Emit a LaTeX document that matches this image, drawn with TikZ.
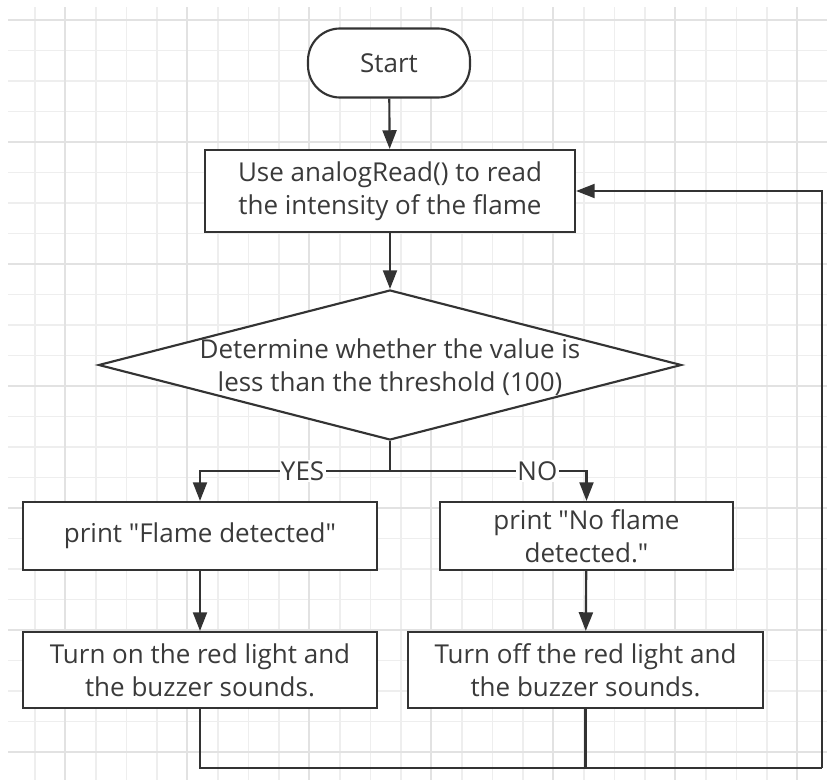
\documentclass[tikz,border=0pt]{standalone}
\usepackage{fontspec}
\setmainfont{Open Sans}[Ligatures=TeXOff]
\usetikzlibrary{shapes.geometric,arrows.meta}
\definecolor{ink}{HTML}{333333}
\definecolor{txt}{HTML}{3A3A3A}
\definecolor{gridminor}{HTML}{EEEEEE}
\definecolor{gridmajor}{HTML}{E2E2E2}
\begin{document}
\begin{tikzpicture}[x=0.75pt,y=-0.75pt,
  every node/.style={font=\fontsize{19.5}{24.75}\selectfont, text=txt},
  box/.style={draw=ink, line width=1.6pt, fill=white, rectangle, align=center, inner sep=0pt},
  link/.style={draw=ink, line width=1.6pt},
  arrow/.style={link, -{Triangle[length=14pt,width=10.5pt]}},
  tag/.style={fill=white, inner sep=1pt}]
\useasboundingbox (0,0) rectangle (827,780);
\fill[white] (0,0) rectangle (827,780);
% background grid
\begin{scope}
  \clip (8,8) rectangle (827,780);
  \foreach \i in {0,...,27} {
    \draw[gridminor, line width=0.8pt] ({4.5+30.5*\i},0) -- ++(0,780);
    \draw[gridminor, line width=0.8pt] (0,{20+30.5*\i}) -- ++(827,0);
  }
  \foreach \i in {0,...,7} {
    \draw[gridmajor, line width=0.9pt] ({65+122*\i},0) -- ++(0,780);
    \draw[gridmajor, line width=0.9pt] (0,{20+122*\i}) -- ++(827,0);
  }
\end{scope}

% flowchart nodes
\node[box, rounded corners=24pt, minimum width=121.5pt, minimum height=51.75pt] (start) at (389,63) {Start};
\node[box, minimum width=277.5pt, minimum height=61.5pt] (read) at (390,191)
  {Use analogRead() to read\\the intensity of the flame};
\node[diamond, draw=ink, line width=1.6pt, fill=white, inner sep=0pt,
  minimum width=437.25pt, minimum height=112.5pt,
  label={[align=center, text=txt, yshift=-2pt]center:Determine whether the value is\\less than the threshold (100)}] (dec) at (390,365) {};
\node[box, minimum width=265.5pt, minimum height=51pt] (yes) at (200,536) {print "Flame detected"};
\node[box, minimum width=219.75pt, minimum height=51pt] (no) at (586.5,536) {print "No flame\\detected."};
\node[box, minimum width=265.5pt, minimum height=57pt] (on) at (200,670)
  {Turn on the red light and\\the buzzer sounds.};
\node[box, minimum width=266.25pt, minimum height=57pt] (off) at (585.5,670)
  {Turn off the red light and\\the buzzer sounds.};

\coordinate (split) at (390,471);
\coordinate (rb) at (822,768);

% connectors
\draw[arrow] (start) -- (read);
\draw[arrow] (read) -- (dec.north);
\draw[link] (dec.south) -- (split);
\draw[arrow] (split) -- node[tag, pos=0.46] {YES} (split -| yes.north) -- (yes.north);
\draw[arrow] (split) -- node[tag, pos=0.75] {NO} (split -| no.north) -- (no.north);
\draw[arrow] (yes) -- (on);
\draw[arrow] (no) -- (off);
\draw[link] (on.south) |- (rb);
\draw[link] (off.south) -- (off.south |- rb);
\draw[arrow] (rb) |- (read.east);
\end{tikzpicture}
\end{document}
